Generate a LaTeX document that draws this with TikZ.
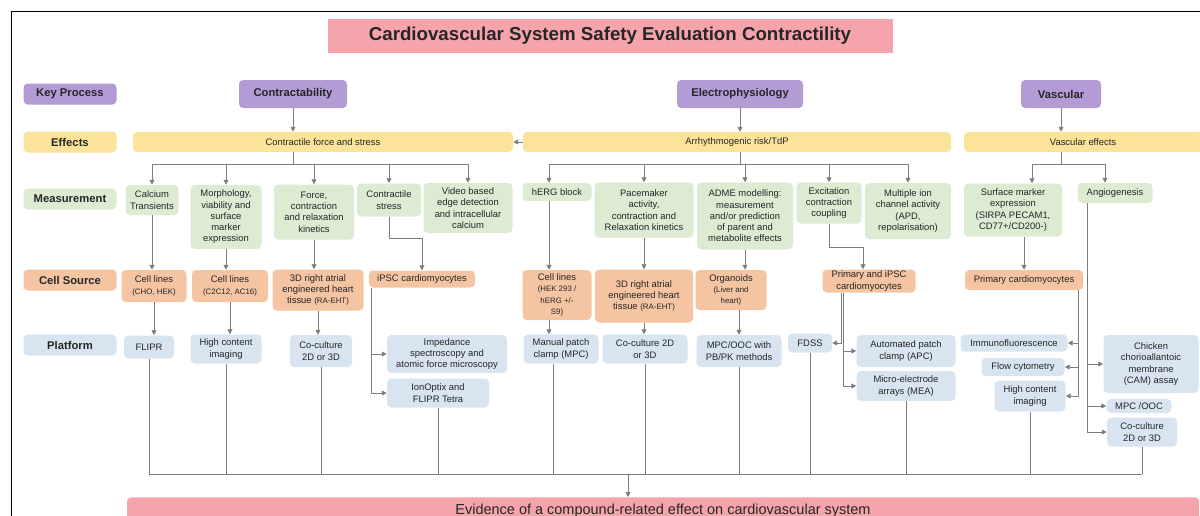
\documentclass[tikz,border=0pt]{standalone}
\usepackage{fontspec}
\setmainfont{Liberation Sans}
\setsansfont{Liberation Sans}
\usepackage{tikz}
\usetikzlibrary{arrows.meta}

\definecolor{titlepink}{RGB}{244,164,170}
\definecolor{procpurple}{RGB}{181,155,214}
\definecolor{effyellow}{RGB}{252,227,154}
\definecolor{measgreen}{RGB}{221,235,211}
\definecolor{cellorange}{RGB}{245,196,162}
\definecolor{platblue}{RGB}{216,229,241}
\definecolor{linegray}{RGB}{125,125,125}

\newcommand{\sm}{\fontsize{5.6}{7}\selectfont}

\begin{document}
\begin{tikzpicture}[
    x=0.025cm, y=-0.025cm,
    font=\fontsize{6.7}{8}\selectfont,
    >={Triangle[length=3.5pt, width=3.5pt]},
    sz/.style 2 args={minimum width=#1*0.025cm, minimum height=#2*0.025cm},
    box/.style={rounded corners=3pt, inner sep=1pt, align=center, text=black!85},
    rowlabel/.style={box, font=\bfseries\fontsize{8}{9.6}\selectfont, sz={93}{21}},
    keyproc/.style={box, fill=procpurple, font=\bfseries\fontsize{8}{9.6}\selectfont},
    effect/.style={box, fill=effyellow},
    measure/.style={box, fill=measgreen},
    cellsrc/.style={box, fill=cellorange},
    platform/.style={box, fill=platblue},
    link/.style={draw=linegray, line width=0.6pt},
    arrow/.style={link, ->}
]
\useasboundingbox (0,0) rectangle (1200,515);

% Frame
\draw[line width=0.7pt] (11,530) -- (11,11) -- (1210,11);

% Title
\node[box, fill=titlepink, rounded corners=0pt, sz={565}{34}, font=\bfseries\fontsize{13.3}{16}\selectfont] (title) at (610,36) {Cardiovascular System Safety Evaluation Contractility};

% Row labels
\node[rowlabel, fill=procpurple] (keyrow) at (70,94) {Key Process};
\node[rowlabel, fill=effyellow] (effrow) at (70,142) {Effects};
\node[rowlabel, fill=measgreen] (measrow) at (70,199) {Measurement};
\node[rowlabel, fill=cellorange] (cellrow) at (70,280) {Cell Source};
\node[rowlabel, fill=platblue] (platrow) at (70,345) {Platform};

% Key processes
\node[keyproc, sz={108}{28}] (contract) at (293,94) {Contractability};
\node[keyproc, sz={126}{28}] (electro) at (740,94) {Electrophysiology};
\node[keyproc, sz={80}{28}] (vascular) at (1061,94) {Vascular};

% Effects
\node[effect, sz={380}{20}] (forcebar) at (323,142) {Contractile force and stress};
\node[effect, sz={428}{20}] (arrbar) at (737,142) {Arrhythmogenic risk/TdP};
\node[effect, sz={238}{20}] (vasbar) at (1083,142) {Vascular effects};

% Measurement
\node[measure, sz={53}{30}] (calcium) at (152,200) {Calcium\\Transients};
\node[measure, sz={71}{64}] (morph) at (226,217) {Morphology,\\viability and\\surface\\marker\\expression};
\node[measure, sz={80}{55}] (force) at (314,212) {Force,\\contraction\\and relaxation\\kinetics};
\node[measure, sz={64}{33}] (cstress) at (389,200) {Contractile\\stress};
\node[measure, sz={89}{50}] (video) at (468,208) {Video based\\edge detection\\and intracellular\\calcium};
\node[measure, sz={69}{18}] (herg) at (557,192) {hERG block};
\node[measure, sz={99}{55}] (pace) at (644,210) {Pacemaker\\activity,\\contraction and\\Relaxation kinetics};
\node[measure, sz={96}{67}] (adme) at (745,216) {ADME modelling:\\measurement\\and/or prediction\\of parent and\\metabolite effects};
\node[measure, sz={65}{41}] (excit) at (829,203) {Excitation\\contraction\\coupling};
\node[measure, sz={86}{56}] (ionch) at (908,211) {Multiple ion\\channel activity\\(APD,\\repolarisation)};
\node[measure, sz={98}{53}] (surface) at (1013,210) {Surface marker\\expression\\(SIRPA PECAM1,\\CD77+/CD200-)};
\node[measure, sz={75}{20}] (angio) at (1115,193) {Angiogenesis};

% Cell source
\node[cellsrc, sz={65}{32}] (cella) at (154,286) {Cell lines\\\sm (CHO, HEK)};
\node[cellsrc, sz={76}{32}] (cellb) at (230,286) {Cell lines\\\sm (C2C12, AC16)};
\node[cellsrc, sz={91}{41}] (ehta) at (318,290) {3D right atrial\\engineered heart\\tissue {\sm (RA-EHT)}};
\node[cellsrc, sz={106}{17}] (ipsc) at (422,279) {iPSC cardiomyocytes};
\node[cellsrc, sz={69}{50}] (cellc) at (557,295) {Cell lines\\\sm (HEK 293 /\\\sm hERG +/-\\\sm S9)};
\node[cellsrc, sz={98}{53}] (ehtb) at (644,296) {3D right atrial\\engineered heart\\tissue {\sm (RA-EHT)}};
\node[cellsrc, sz={71}{40}] (organoid) at (731,290) {Organoids\\\sm (Liver and\\\sm heart)};
\node[cellsrc, sz={93}{23}] (primary) at (869,281) {Primary and iPSC\\cardiomyocytes};
\node[cellsrc, sz={118}{20}] (primaryv) at (1024,280) {Primary cardiomyocytes};

% Platform
\node[platform, sz={50}{23}] (flipr) at (149,347) {FLIPR};
\node[platform, sz={71}{29}] (hci) at (226,349) {High content\\imaging};
\node[platform, sz={62}{32}] (cocultA) at (321,351) {Co-culture\\2D or 3D};
\node[platform, sz={120}{38}] (imped) at (447,354) {Impedance\\spectroscopy and\\atomic force microscopy};
\node[platform, sz={102}{29}] (ionopt) at (438,393) {IonOptix and\\FLIPR Tetra};
\node[platform, sz={75}{29}] (mpc) at (561,349) {Manual patch\\clamp (MPC)};
\node[platform, sz={85}{29}] (cocultB) at (645,349) {Co-culture 2D\\or 3D};
\node[platform, sz={85}{32}] (pbpk) at (739,351) {MPC/OOC with\\PB/PK methods};
\node[platform, sz={44}{19}] (fdss) at (810,343) {FDSS};
\node[platform, sz={99}{32}] (apc) at (906,351) {Automated patch\\clamp (APC)};
\node[platform, sz={99}{30}] (mea) at (906,386) {Micro-electrode\\arrays (MEA)};
\node[platform, sz={107}{17}] (immuno) at (1014,343) {Immunofluorescence};
\node[platform, sz={83}{18}] (flow) at (1023,367) {Flow cytometry};
\node[platform, sz={71}{31}] (hciv) at (1030,396) {High content\\imaging};
\node[platform, sz={95}{58}] (cam) at (1151,364) {Chicken\\chorioallantoic\\membrane\\(CAM) assay};
\node[platform, sz={65}{14}] (mpcooc) at (1139,406) {MPC /OOC};
\node[platform, sz={70}{29}] (cocultv) at (1142,432) {Co-culture\\2D or 3D};

% Outcome
\node[box, fill=titlepink, sz={1072}{26}, anchor=north, font=\fontsize{10.3}{12}\selectfont] (evidence) at (663,497) {Evidence of a compound-related effect on cardiovascular system};

% Arrows - key process to effects
\draw[arrow] (contract) -- (contract |- forcebar.north);
\draw[arrow] (electro) -- (electro |- arrbar.north);
\draw[arrow] (vascular) -- (vascular |- vasbar.north);
\draw[arrow] (arrbar) -- (forcebar);

% Contractility column
\draw[link] (contract |- forcebar.south) -- ++(0,12) coordinate (cfork);
\draw[arrow] (cfork) -| (calcium.north);
\draw[arrow] (cfork) -| (morph.north);
\draw[arrow] (cfork) -| (force.north);
\draw[arrow] (cfork) -| (cstress.north);
\draw[arrow] (cfork) -| (video.north);
\draw[arrow] (calcium) -- (calcium |- cella.north);
\draw[arrow] (morph) -- (morph |- cellb.north);
\draw[arrow] (force) -- (force |- ehta.north);
\draw[arrow] (cstress.south) -- ++(0,22) -| (ipsc.north);
\draw[arrow] (cella) -- (cella |- flipr.north);
\draw[arrow] (cellb) -- (cellb |- hci.north);
\draw[arrow] (ehta) -- (ehta |- cocultA.north);
\draw[arrow] ([xshift=-1.275cm]ipsc.south) |- (imped.west);
\draw[arrow] ([xshift=-1.275cm]ipsc.south) |- (ionopt.west);

% Electrophysiology column
\draw[link] (electro |- arrbar.south) -- ++(0,12) coordinate (efork);
\draw[arrow] (efork) -| ([xshift=-0.2cm]herg.north);
\draw[arrow] (efork) -| (pace.north);
\draw[arrow] (efork) -| (adme.north);
\draw[arrow] (efork) -| (excit.north);
\draw[arrow] (efork) -| (ionch.north);
\draw[arrow] ([xshift=-0.2cm]herg.south) -- ([xshift=-0.2cm]herg.south |- cellc.north);
\draw[arrow] (pace) -- (pace |- ehtb.north);
\draw[arrow] (adme) -- (adme |- organoid.north);
\draw[arrow] (excit.south) -- ++(0,24) -| ([xshift=-0.15cm]primary.north);
\draw[arrow] ([xshift=-0.2cm]cellc.south) -- ([xshift=-0.2cm]cellc.south |- mpc.north);
\draw[arrow] (ehtb) -- (ehtb |- cocultB.north);
\draw[arrow] (pbpk |- organoid.south) -- (pbpk.north);
\draw[arrow] ([xshift=-0.7cm]primary.south) |- (fdss.east);
\draw[arrow] ([xshift=-0.65cm]primary.south) |- (apc.west);
\draw[arrow] ([xshift=-0.65cm]primary.south) |- (mea.west);

% Vascular column
\draw[link] (vascular |- vasbar.south) -- ++(0,12) coordinate (vfork);
\draw[arrow] (vfork) -| ([xshift=0.475cm]surface.north);
\draw[arrow] (vfork) -| ([xshift=-0.25cm]angio.north);
\draw[arrow] (primaryv |- surface.south) -- (primaryv.north);
\draw[arrow] ([xshift=1.35cm]primaryv.south) |- (immuno.east);
\draw[arrow] ([xshift=1.35cm]primaryv.south) |- (flow.east);
\draw[arrow] ([xshift=1.35cm]primaryv.south) |- (hciv.east);
\draw[arrow] ([xshift=-0.7cm]angio.south) |- (cam.west);
\draw[arrow] ([xshift=-0.7cm]angio.south) |- (mpcooc.west);
\draw[arrow] ([xshift=-0.7cm]angio.south) |- (cocultv.west);

% Collecting line to outcome
\coordinate (bus) at (155,474);
\coordinate (busmid) at (628,474);
\draw[link] (flipr |- bus) -- (cocultv |- bus);
\draw[link] (flipr) -- (flipr |- bus);
\draw[link] (hci) -- (hci |- bus);
\draw[link] (cocultA) -- (cocultA |- bus);
\draw[link] (ionopt) -- (ionopt |- bus);
\draw[link] ([xshift=-0.2cm]mpc.south) -- ([xshift=-0.2cm]mpc.south |- bus);
\draw[link] (cocultB) -- (cocultB |- bus);
\draw[link] (pbpk) -- (pbpk |- bus);
\draw[link] (fdss) -- (fdss |- bus);
\draw[link] (mea) -- (mea |- bus);
\draw[link] (hciv) -- (hciv |- bus);
\draw[link] (cocultv) -- (cocultv |- bus);
\draw[arrow] (busmid) -- (busmid |- evidence.north);

\end{tikzpicture}
\end{document}
